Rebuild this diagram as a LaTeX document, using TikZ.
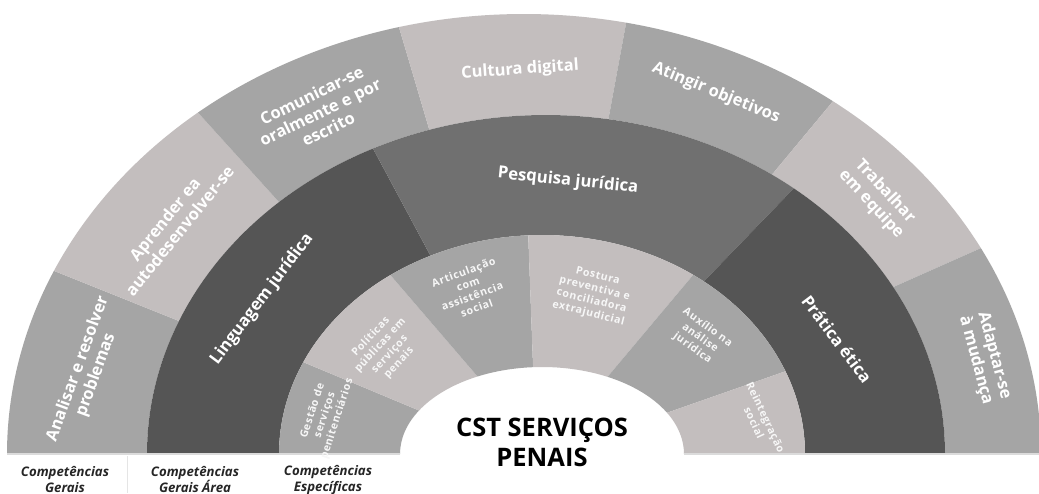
\documentclass[tikz,border=0pt]{standalone}
\usepackage{fontspec}
\setmainfont{Open Sans}
\newfontfamily\trackedfont[LetterSpace=6]{Open Sans}
\usepackage{xcolor}
\usepackage{tikz}

\definecolor{ringmid}{RGB}{165,165,165}
\definecolor{ringlight}{RGB}{195,190,190}
\definecolor{ringdark}{RGB}{85,85,85}
\definecolor{ringpesq}{RGB}{112,112,112}

\begin{document}
\begin{tikzpicture}[
        x=1pt, y=1pt,
        outerlabel/.style={
            text=white, inner sep=0pt, align=center,
            font=\fontsize{16.5}{19}\selectfont\bfseries
        },
        midlabel/.style={
            text=white, inner sep=0pt, align=center,
            font=\fontsize{16.7}{19}\selectfont\bfseries
        },
        innerlabel/.style={
            text=white!94!gray, inner sep=0pt, align=center,
            font=\trackedfont\fontsize{10.6}{12.8}\selectfont\bfseries
        },
        centretitle/.style={
            text=black, inner sep=0pt, align=center,
            font=\fontsize{25.5}{29.5}\selectfont\bfseries
        },
        ringname/.style={
            text=black!85, inner sep=0pt, align=center,
            font=\fontsize{13.2}{16}\selectfont\bfseries\itshape
        },
    ]

    \useasboundingbox (0,0) rectangle (1039,493);
    \fill[white] (0,0) rectangle (1039,493);
    \clip (0,0) rectangle (1039,493);

    % ── Outer ring: competências gerais ──
    \foreach \ao/\bo/\ai/\bi/\col in {180/155.4/180/156.9/ringmid, 155.4/129.1/156.9/132/ringlight,
            129.1/104/132/107/ringmid, 104/78.6/107/81/ringlight, 78.6/53.3/81/55.5/ringmid,
            53.3/27.9/55.5/29.5/ringlight, 27.9/0/29.5/0/ringmid}
        \fill[\col] ([shift={(524,39)}]\ao:517 and 440)
            arc[start angle=\ao, end angle=\bo, x radius=517, y radius=440]
            -- ([shift={(546,39)}]\bi:399 and 339)
            arc[start angle=\bi, end angle=\ai, x radius=399, y radius=339] -- cycle;

    % ── Middle ring: competências gerais da área ──
    \foreach \ao/\bo/\ai/\bi/\col in {180/115.7/180/115.1/ringdark, 115.7/51.6/115.1/52/ringpesq,
            51.6/0/52/0/ringdark}
        \fill[\col] ([shift={(546,39)}]\ao:399 and 339)
            arc[start angle=\ao, end angle=\bo, x radius=399, y radius=339]
            -- ([shift={(542,39)}]\bi:263 and 219)
            arc[start angle=\bi, end angle=\ai, x radius=263, y radius=219] -- cycle;

    % ── Inner ring: competências específicas ──
    \foreach \ao/\bo/\ai/\bi/\col in {180/155.2/180/150/ringmid, 155.2/125.2/150/117/ringlight,
            125.2/93/117/93.6/ringmid, 93/54.9/93.6/62.5/ringlight, 54.9/22.2/62.5/28.3/ringmid,
            22.2/0/28.3/0/ringlight}
        \fill[\col] ([shift={(542,39)}]\ao:263 and 219)
            arc[start angle=\ao, end angle=\bo, x radius=263, y radius=219]
            -- ([shift={(542,39)}]\bi:142 and 87)
            arc[start angle=\bi, end angle=\ai, x radius=142, y radius=87] -- cycle;

    % ── Base line and separator ──
    \draw[black!14, line width=1.5pt] (7,39) -- (400,39);
    \draw[black!14, line width=1.5pt] (684,39) -- (1039,39);
    \draw[black!10, line width=1pt] (127,0) -- (127,37);

    % ── Outer ring labels ──
    \node[outerlabel, rotate=70] (analisar) at (87,121) {Analisar e resolver\\problemas};
    \node[outerlabel, rotate=51] (aprender) at (172,268) {Aprender ea\\autodesenvolver-se};
    \node[outerlabel, rotate=26] (comunicar) at (320,381) {Comunicar-se\\oralmente e por\\escrito};
    \node[outerlabel, rotate=4] (cultura) at (520,423) {Cultura digital};
    \node[outerlabel, rotate=-22] (atingir) at (716,400) {Atingir objetivos};
    \node[outerlabel, rotate=-47] (trabalhar) at (878,295) {Trabalhar\\em equipe};
    \node[outerlabel, rotate=-75] (adaptar) at (985,135) {Adaptar-se\\à mudança};

    % ── Middle ring labels ──
    \node[midlabel, rotate=53] (linguagem) at (262,194) {Linguagem jurídica};
    \node[midlabel, rotate=-6] (pesquisa) at (568,312) {Pesquisa jurídica};
    \node[midlabel, rotate=-53] (pratica) at (837,154) {Prática ética};

    % ── Inner ring labels ──
    \node[innerlabel, rotate=72] (gestao) at (325,78) {Gestão de\\serviços\\penitenciários};
    \node[innerlabel, rotate=47] (politicas) at (385,143) {Políticas\\públicas em\\serviços\\penais};
    \node[innerlabel, rotate=20] (articulacao) at (470,203) {Articulação\\com\\assistência\\social};
    \node[innerlabel, rotate=-14] (postura) at (593,198) {Postura\\preventiva e\\conciliadora\\extrajudicial};
    \node[innerlabel, rotate=-36] (auxilio) at (700,155) {Auxílio na\\análise\\jurídica};
    \node[innerlabel, rotate=-65] (reintegracao) at (760,73) {Reintegração\\social};

    % ── Centre and ring names ──
    \node[centretitle] (cst) at (542,50.5) {CST SERVIÇOS\\PENAIS};
    \node[ringname] (gerais) at (65,13) {Competências\\Gerais};
    \node[ringname] (geraisarea) at (195,13) {Competências\\Gerais Área};
    \node[ringname] (especificas) at (328,13) {Competências\\Específicas};

\end{tikzpicture}
\end{document}
